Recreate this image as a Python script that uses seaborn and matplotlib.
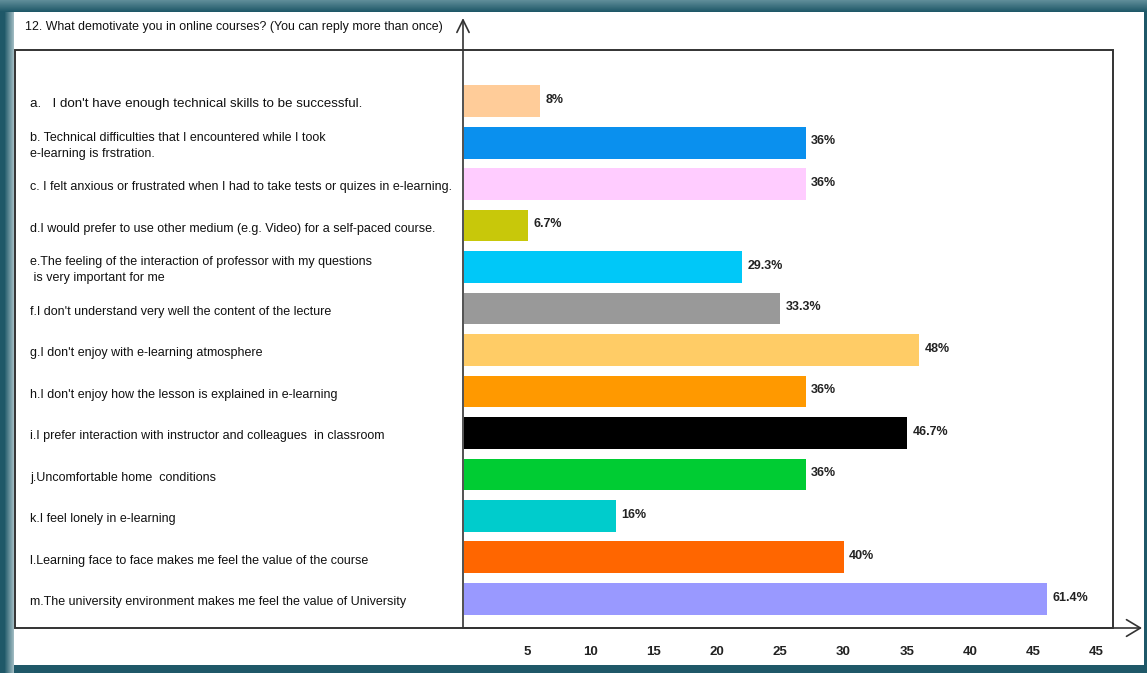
import matplotlib
matplotlib.use("Agg")
import matplotlib.pyplot as plt
import matplotlib.transforms as mtransforms
from matplotlib.patches import Rectangle, FancyArrowPatch
import numpy as np
import pandas as pd
import seaborn as sns

# ---- survey data -------------------------------------------------------
title = "12. What demotivate you in online courses? (You can reply more than once)"

items = [
    "a.   I don't have enough technical skills to be successful.",
    "b. Technical difficulties that I encountered while I took\ne-learning is frstration.",
    "c. I felt anxious or frustrated when I had to take tests or quizes in e-learning.",
    "d.I would prefer to use other medium (e.g. Video) for a self-paced course.",
    "e.The feeling of the interaction of professor with my questions\n is very important for me",
    "f.I don't understand very well the content of the lecture",
    "g.I don't enjoy with e-learning atmosphere",
    "h.I don't enjoy how the lesson is explained in e-learning",
    "i.I prefer interaction with instructor and colleagues  in classroom",
    "j.Uncomfortable home  conditions",
    "k.I feel lonely in e-learning",
    "l.Learning face to face makes me feel the value of the course",
    "m.The university environment makes me feel the value of University",
]
percent = [8, 36, 36, 6.7, 29.3, 33.3, 48, 36, 46.7, 36, 16, 40, 61.4]
respondents = 75

tick_values = [5, 10, 15, 20, 25, 30, 35, 40, 45, 50]
tick_labels = ["5", "10", "15", "20", "25", "30", "35", "40", "45", "45"]

bar_colors = ["#FFCC99", "#0A90EE", "#FFCCFF", "#C8C80A", "#00C8F8", "#999999",
              "#FFCC66", "#FF9900", "#000000", "#00CC33", "#00CCCC", "#FF6600",
              "#9999FF"]

counts = [p * respondents / 100 for p in percent]
df = pd.DataFrame({"item": items, "count": counts})

# ---- figure ------------------------------------------------------------
W, H = 1147, 673
sns.set_theme(style="white")
plt.rcParams["font.family"] = ["Liberation Sans", "DejaVu Sans"]

frame_dark = "#1F5868"
fig = plt.figure(figsize=(W / 100, H / 100), dpi=100, facecolor=frame_dark)
px = mtransforms.Affine2D().scale(1 / W, -1 / H).translate(0, 1) + fig.transFigure


def mix(c1, c2, t):
    a = np.array(matplotlib.colors.to_rgb(c1))
    b = np.array(matplotlib.colors.to_rgb(c2))
    return tuple(a + (b - a) * t)


# white card inside the teal frame
fig.add_artist(Rectangle((14, 12), 1130, 653, transform=px, facecolor="white",
                         edgecolor="none", zorder=-5))
# soft highlights on the frame
for k in range(12):
    fig.add_artist(Rectangle((0, k), W, 1, transform=px, edgecolor="none",
                             facecolor=mix("#5E8C98", frame_dark, k / 11), zorder=-6))
for k in range(14):
    t = min(1.0, abs(k - 4) / 9)
    fig.add_artist(Rectangle((k, 12), 1, 661, transform=px, edgecolor="none",
                             facecolor=mix(frame_dark, "#9DB9C0", t if k > 4 else 0),
                             zorder=-6))

# ---- bars ----------------------------------------------------------------
ax_left, ax_right, ax_top, ax_bottom = 464, 1113, 50, 628
px_per_unit = 12.65
ax = fig.add_axes([ax_left / W, 1 - ax_bottom / H,
                   (ax_right - ax_left) / W, (ax_bottom - ax_top) / H])
ax.patch.set_visible(False)

sns.barplot(data=df, x="count", y="item", hue="item", order=items,
            hue_order=items, palette=bar_colors, saturation=1, legend=False,
            orient="h", width=0.77, linewidth=0, ax=ax)

ax.set_xlim(0, (ax_right - ax_left) / px_per_unit)
ax.set_ylim(12.70, -1.23)
for s in ax.spines.values():
    s.set_visible(False)
ax.set_xlabel("")
ax.set_ylabel("")
ax.set_yticks([])
ax.set_xticks(tick_values)
ax.set_xticklabels(tick_labels, fontsize=9.5, fontweight="bold", color="#222222")
ax.tick_params(axis="x", length=0, pad=13)

# value labels at the bar ends
for i, (c, p) in enumerate(zip(counts, percent)):
    ax.annotate(f"{p:g}%", xy=(c, i), xytext=(4, 1), textcoords="offset points",
                ha="left", va="center", fontsize=9, fontweight="bold",
                color="#222222")

# statement labels, left aligned inside the frame
lab_tr = mtransforms.blended_transform_factory(ax.transAxes, ax.transData)
lab_x = (30 - ax_left) / (ax_right - ax_left)
for i, txt in enumerate(items):
    ax.text(lab_x, i + 0.08, txt, transform=lab_tr, ha="left", va="center",
            fontsize=9.6 if i == 0 else 9.0, color="#111111",
            linespacing=1.45, clip_on=False)

# ---- box, axes and arrows ------------------------------------------------
line_c = "#333333"
fig.add_artist(Rectangle((15, ax_top), ax_right - 15, ax_bottom - ax_top,
                         transform=px, facecolor="none", edgecolor=line_c,
                         linewidth=1.4, zorder=4))
fig.add_artist(FancyArrowPatch((463, ax_bottom), (463, 18), transform=px,
                               arrowstyle="->,head_length=0.45,head_width=0.22",
                               mutation_scale=20, color=line_c, linewidth=1.2,
                               shrinkA=0, shrinkB=0, zorder=5))
fig.add_artist(FancyArrowPatch((463, ax_bottom), (1142, ax_bottom), transform=px,
                               arrowstyle="->,head_length=0.5,head_width=0.3",
                               mutation_scale=20, color=line_c, linewidth=1.2,
                               shrinkA=0, shrinkB=0, zorder=5))

fig.text(25 / W, 1 - 27 / H, title, ha="left", va="center", fontsize=8.9,
         color="#111111")

fig.savefig("out.png", dpi=100, facecolor=fig.get_facecolor())
